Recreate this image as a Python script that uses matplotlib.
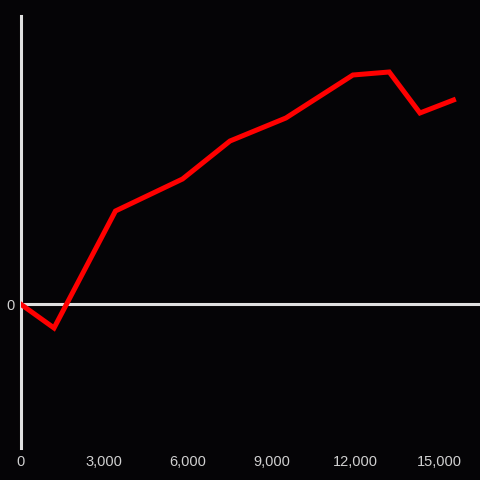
import matplotlib
matplotlib.use("Agg")
import matplotlib.pyplot as plt
from matplotlib.ticker import FuncFormatter

# Datos
x_vals = [0, 1200, 3400, 5800, 7500, 9500, 11900, 13200, 14300, 15500]
y_vals = [0, -24, 93, 125, 163, 186, 229, 232, 191, 204]
x_ticks = [0, 3000, 6000, 9000, 12000, 15000]

BG = "#050406"
AXIS = "#e0e0e0"

plt.rcParams["font.family"] = ["Liberation Sans", "DejaVu Sans"]

fig = plt.figure(figsize=(4.8, 4.8), dpi=100, facecolor=BG)
ax = fig.add_axes([20.5 / 480, 32 / 480, 459.5 / 480, 432 / 480], facecolor=BG)

ax.axhline(0, color=AXIS, lw=2.2, zorder=1)
ax.plot(x_vals, y_vals, color="#ff0000", lw=3.6, zorder=3, solid_joinstyle="miter")

ax.set_xlim(0, 16450)
ax.set_ylim(-144, 288)

for s in ["top", "right", "bottom"]:
    ax.spines[s].set_visible(False)
ax.spines["left"].set_color(AXIS)
ax.spines["left"].set_linewidth(2.2)

ax.set_xticks(x_ticks)
ax.xaxis.set_major_formatter(FuncFormatter(lambda v, p: f"{int(v):,}"))
ax.set_yticks([0])
ax.tick_params(axis="both", length=0, colors="#d0d0d0", labelsize=10.5)
ax.tick_params(axis="x", pad=5)
ax.tick_params(axis="y", pad=4)

fig.savefig("out.png", dpi=100, facecolor=BG)
